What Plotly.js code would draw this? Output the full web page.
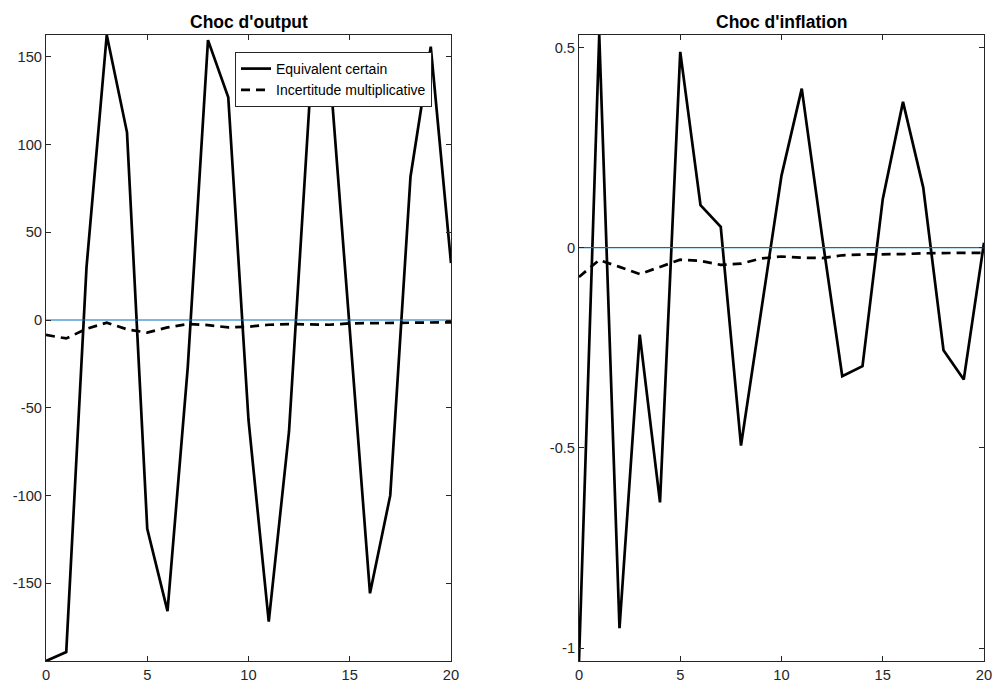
<!DOCTYPE html>
<html>
<head>
<meta charset="utf-8">
<script src="https://cdn.plot.ly/plotly-3.0.1.min.js"></script>
<style>html,body{margin:0;padding:0;background:#fff;}#chart{width:993px;height:686px;}</style>
</head>
<body>
<div id="chart"></div>
<script>
// Horizon (periods)
const periods = [0,1,2,3,4,5,6,7,8,9,10,11,12,13,14,15,16,17,18,19,20];

// Choc d'output
const outputCertain = [-194.4,-189.3,30,162.5,107,-119,-166,-27,159.6,127,-57,-172,-63.7,121.6,145,-6,-155.8,-100,81.7,155.8,32.5];
const outputMultiplicative = [-8.5,-10.5,-5,-1.5,-5.3,-7.2,-4.2,-2.3,-2.9,-4.2,-3.8,-2.7,-2.3,-2.7,-2.7,-1.9,-1.8,-1.9,-1.8,-1.6,-1.3];

// Choc d'inflation
const inflationCertain = [-1.032,0.531,-0.95,-0.217,-0.636,0.489,0.106,0.052,-0.494,-0.157,0.18,0.397,0.03,-0.321,-0.296,0.121,0.364,0.15,-0.256,-0.329,0.0125];
const inflationMultiplicative = [-0.073,-0.031,-0.048,-0.066,-0.048,-0.03,-0.033,-0.043,-0.04,-0.027,-0.022,-0.025,-0.026,-0.019,-0.017,-0.017,-0.016,-0.014,-0.013,-0.013,-0.013];

// Zero reference line
const zeroLine = periods.map(() => 0);

// Tick labels
const xTicks = [0,5,10,15,20];
const xTickText = ['0','5','10','15','20'];
const outputTicks = [-150,-100,-50,0,50,100,150];
const outputTickText = ['-150','-100','-50','0','50','100','150'];
const inflationTicks = [-1,-0.5,0,0.5];
const inflationTickText = ['-1','-0.5','0','0.5'];

const titles = ["Choc d'output", "Choc d'inflation"];
const seriesNames = ['Equivalent certain', 'Incertitude multiplicative'];

const W = 993, H = 686;
const axColor = '#262626';
const fam = 'Liberation Sans, Arial, sans-serif';
const font = {family: fam, size: 14.7, color: axColor};

function range(a, b) {
  const all = a.concat(b);
  return [Math.min(...all), Math.max(...all)];
}

const traces = [
  {x: periods, y: outputCertain, xaxis: 'x', yaxis: 'y', mode: 'lines', name: seriesNames[0],
   line: {color: '#000', width: 2.7}, showlegend: true},
  {x: periods, y: outputMultiplicative, xaxis: 'x', yaxis: 'y', mode: 'lines', name: seriesNames[1],
   line: {color: '#000', width: 2.7, dash: '9px,6px'}, showlegend: true},
  {x: periods, y: zeroLine, xaxis: 'x', yaxis: 'y', mode: 'lines', line: {color: '#0072BD', width: 1.2}, showlegend: false},
  {x: periods, y: inflationCertain, xaxis: 'x2', yaxis: 'y2', mode: 'lines',
   line: {color: '#000', width: 2.7}, showlegend: false},
  {x: periods, y: inflationMultiplicative, xaxis: 'x2', yaxis: 'y2', mode: 'lines',
   line: {color: '#000', width: 2.7, dash: '9px,6px'}, showlegend: false},
  {x: periods, y: zeroLine, xaxis: 'x2', yaxis: 'y2', mode: 'lines', line: {color: '#0072BD', width: 1.2}, showlegend: false}
];

const yDom = [(H - 661) / H, (H - 35) / H];
function xaxis(dom, anchor) {
  return {domain: dom, anchor: anchor, range: [0, 20], tickvals: xTicks, ticktext: xTickText,
    ticks: 'inside', ticklen: 5, tickcolor: axColor, tickwidth: 1, showline: true, linecolor: axColor,
    linewidth: 1, mirror: 'ticks', showgrid: false, zeroline: false, tickfont: font, fixedrange: true};
}
function yaxis(anchor, r, tv, tt) {
  return {domain: yDom, anchor: anchor, range: r, tickvals: tv, ticktext: tt,
    ticks: 'inside', ticklen: 5, tickcolor: axColor, tickwidth: 1, showline: true, linecolor: axColor,
    linewidth: 1, mirror: 'ticks', showgrid: false, zeroline: false, tickfont: font, fixedrange: true};
}

const layout = {
  width: W, height: H,
  margin: {l: 0, r: 0, t: 0, b: 0},
  paper_bgcolor: '#fff', plot_bgcolor: '#fff',
  showlegend: true,
  xaxis: xaxis([46 / W, 451 / W], 'y'),
  yaxis: yaxis('x', range(outputCertain, outputMultiplicative), outputTicks, outputTickText),
  xaxis2: xaxis([579 / W, 984 / W], 'y2'),
  yaxis2: yaxis('x2', range(inflationCertain, inflationMultiplicative), inflationTicks, inflationTickText),
  legend: {x: 235 / W, y: 1 - 52 / H, xanchor: 'left', yanchor: 'top', bgcolor: '#fff',
    bordercolor: axColor, borderwidth: 1, font: {family: fam, size: 14, color: '#000'},
    itemwidth: 30, tracegroupgap: 0},
  annotations: [
    {text: '<b>' + titles[0] + '</b>', xref: 'x domain', yref: 'paper', x: 0.5, y: 1 - 22 / H,
     xanchor: 'center', yanchor: 'middle', showarrow: false, font: {family: fam, size: 17.5, color: '#000'}},
    {text: '<b>' + titles[1] + '</b>', xref: 'x2 domain', yref: 'paper', x: 0.5, y: 1 - 22 / H,
     xanchor: 'center', yanchor: 'middle', showarrow: false, font: {family: fam, size: 17.5, color: '#000'}}
  ]
};

Plotly.newPlot('chart', traces, layout, {displayModeBar: false, staticPlot: true});
</script>
</body>
</html>
